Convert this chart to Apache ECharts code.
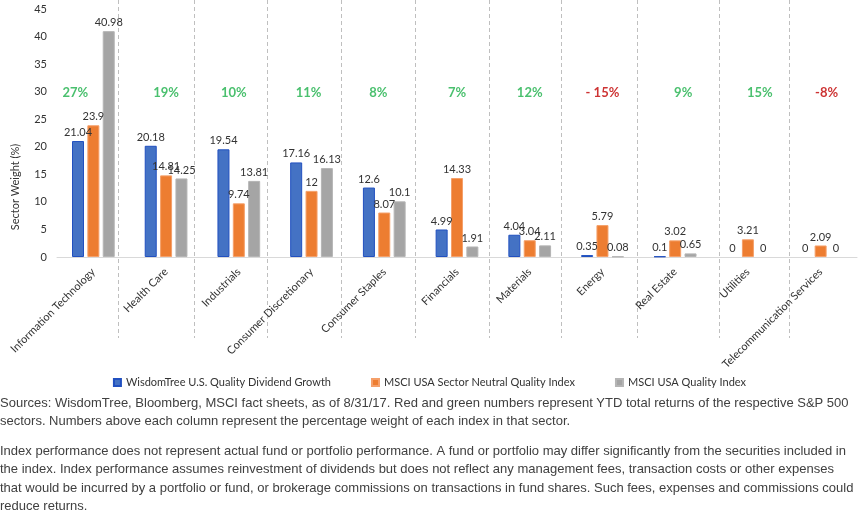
<!DOCTYPE html>
<html><head><meta charset="utf-8">
<script src="https://cdn.jsdelivr.net/npm/echarts@6/dist/echarts.min.js"></script>
<style>html,body{margin:0;padding:0;background:#fff}#c{width:859px;height:520px}</style>
</head><body><div id="c"></div>
<script>
var categories = ['Information Technology','Health Care','Industrials','Consumer Discretionary','Consumer Staples','Financials','Materials','Energy','Real Estate','Utilities','Telecommunication Services'];
var wisdomTree = [21.04,20.18,19.54,17.16,12.6,4.99,4.04,0.35,0.1,0,0];
var msciNeutral = [23.9,14.81,9.74,12,8.07,14.33,3.04,5.79,3.02,3.21,2.09];
var msciQuality = [40.98,14.25,13.81,16.13,10.1,1.91,2.11,0.08,0.65,0,0];
var ytdReturns = ['27%','19%','10%','11%','8%','7%','12%','- 15%','9%','15%','-8%'];
var ytdPositive = [true,true,true,true,true,true,true,false,true,true,false];
var ytdLevel = 29.8;
var ytdOffsets = [-18,0,-5,-3,-6,0,0,0,8,12,6];
var separatorPos = [0.843,1.887,2.89,3.906,4.923,5.94,6.93,7.97,9.1,10.07];
var yTicks = {min:0,max:45,interval:5};
var seriesNames = ['WisdomTree U.S. Quality Dividend Growth','MSCI USA Sector Neutral Quality Index','MSCI USA Quality Index'];
var footnote = 'Sources: WisdomTree, Bloomberg, MSCI fact sheets, as of 8/31/17. Red and green numbers represent YTD total returns of the respective S&P 500\nsectors. Numbers above each column represent the percentage weight of each index in that sector.';
var footnote2 = 'Index performance does not represent actual fund or portfolio performance. A fund or portfolio may differ significantly from the securities included in\nthe index. Index performance assumes reinvestment of dividends but does not reflect any management fees, transaction costs or other expenses\nthat would be incurred by a portfolio or fund, or brokerage commissions on transactions in fund shares. Such fees, expenses and commissions could\nreduce returns.';

var FONT = 'Lato, "Open Sans", sans-serif';
var chart = echarts.init(document.getElementById('c'), null, {renderer:'canvas'});
var lbl = {show:true, position:'top', distance:3, fontSize:11, color:'#333', fontFamily:FONT};
function barSeries(name, data, color, border){
  return {name:name, type:'bar', barWidth:12, barGap:'28%',
    data:data.map(function(v){ return v === 0 ? {value:v, itemStyle:{borderWidth:0}} : v; }),
    itemStyle:{color:color, borderColor:border, borderWidth:1}, label:lbl};
}
var option = {
  animation:false,
  grid:{left:57, right:2, top:9, bottom:263, containLabel:false},
  legend:{data:seriesNames, left:'center', top:372, icon:'rect', itemWidth:7, itemHeight:7, itemGap:40,
    textStyle:{fontSize:11, color:'#333', fontFamily:FONT}},
  xAxis:{type:'category', data:categories,
    axisLine:{lineStyle:{color:'#d9d9d9'}}, axisTick:{show:false},
    axisLabel:{interval:0, rotate:45, fontSize:11, color:'#333', fontFamily:FONT, margin:13}},
  yAxis:{type:'value', min:yTicks.min, max:yTicks.max, interval:yTicks.interval,
    axisLine:{show:false}, axisTick:{show:false}, splitLine:{show:false},
    axisLabel:{fontSize:11, color:'#333', fontFamily:FONT, margin:10}},
  series:[
    barSeries(seriesNames[0], wisdomTree, '#4472C4', '#2150C0'),
    barSeries(seriesNames[1], msciNeutral, '#ED7D31', '#F5A06A'),
    barSeries(seriesNames[2], msciQuality, '#A5A5A5', '#B5B5B5'),
    {type:'scatter', symbolSize:0, silent:true, legendHoverLink:false,
      data: ytdReturns.map(function(t,i){
        return {value:[categories[i], ytdLevel],
          label:{show:true, position:'inside', formatter:t, offset:[ytdOffsets[i],0],
            color: ytdPositive[i] ? '#1DB04A' : '#C00000', fontWeight:'bold', fontSize:13, fontFamily:FONT}};
      })}
  ]
};
chart.setOption(option);

var c0 = chart.convertToPixel({xAxisIndex:0}, categories[0]);
var c1 = chart.convertToPixel({xAxisIndex:0}, categories[1]);
var cw = c1 - c0;
var startX = c0 - cw/2;
var graphics = separatorPos.map(function(p){
  var x = Math.round(startX + p*cw) + 0.5;
  return {type:'line', shape:{x1:x, y1:0, x2:x, y2:338}, style:{stroke:'#bfbfbf', lineWidth:1, lineDash:[4,3]}, z:-1};
});
graphics.push({type:'text', x:15, y:187, rotation:Math.PI/2, style:{text:'Sector Weight (%)', fill:'#333', font:'11px '+FONT, textAlign:'center', textVerticalAlign:'middle'}});
graphics.push({type:'text', left:0, top:394, style:{text:footnote, font:'13px "Liberation Sans", Arial, sans-serif', fill:'#404040', lineHeight:18.5}});
graphics.push({type:'text', left:0, top:442, style:{text:footnote2, font:'13px "Liberation Sans", Arial, sans-serif', fill:'#404040', lineHeight:18.5}});
chart.setOption({graphic:graphics});
</script></body></html>
